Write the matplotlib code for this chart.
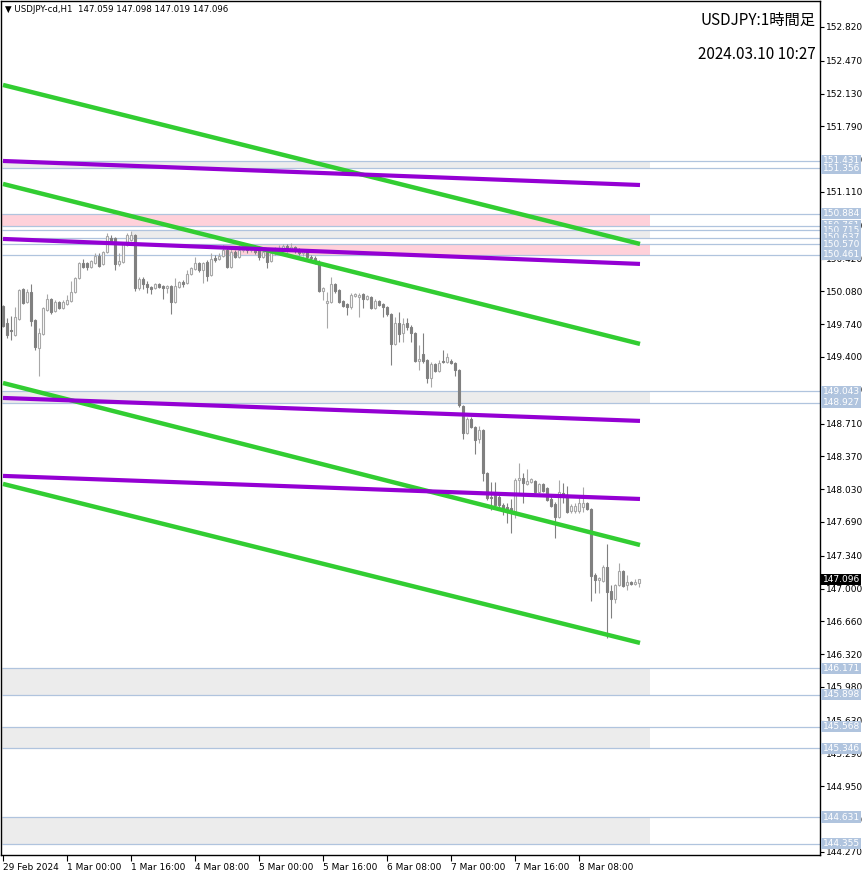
import numpy as np
import matplotlib.pyplot as plt
from matplotlib.transforms import blended_transform_factory

# USDJPY H1, 29 Feb 08:00 .. 8 Mar 23:00 (160 bars)
opens = [
    149.929, 149.753, 149.680, 149.628, 149.794, 150.105, 149.970, 150.074, 149.784, 149.494,
    149.639, 149.887, 150.001, 149.877, 149.970, 149.908, 149.950, 149.981, 150.074, 150.219,
    150.374, 150.374, 150.333, 150.374, 150.447, 150.364, 150.488, 150.633, 150.633, 150.364,
    150.385, 150.561, 150.612, 150.664, 150.116, 150.208, 150.157, 150.126, 150.116, 150.157,
    150.136, 150.116, 150.136, 149.970, 150.126, 150.178, 150.167, 150.260, 150.312, 150.374,
    150.302, 150.385, 150.250, 150.426, 150.416, 150.447, 150.509, 150.333, 150.488, 150.436,
    150.509, 150.550, 150.509, 150.540, 150.530, 150.436, 150.488, 150.395, 150.478, 150.509,
    150.519, 150.550, 150.519, 150.540, 150.509, 150.478, 150.499, 150.436, 150.426, 150.385,
    150.084, 149.960, 149.970, 150.157, 150.095, 149.981, 149.950, 149.918, 150.033, 150.022,
    150.053, 150.001, 150.022, 149.908, 149.981, 149.950, 149.918, 149.846, 149.535, 149.753,
    149.649, 149.753, 149.711, 149.649, 149.359, 149.431, 149.369, 149.183, 149.328, 149.255,
    149.359, 149.348, 149.359, 149.338, 149.266, 148.892, 148.612, 148.757, 148.674, 148.550,
    148.644, 148.198, 147.949, 147.970, 147.949, 147.866, 147.846, 147.835, 147.794, 148.125,
    148.146, 148.084, 148.105, 148.115, 148.001, 148.084, 148.043, 147.929, 147.877, 147.742,
    147.991, 147.970, 147.804, 147.804, 147.804, 147.846, 147.887, 147.825, 147.141, 147.089,
    147.079, 147.224, 146.975, 146.892, 147.038, 147.183, 147.038, 147.069, 147.048, 147.059,
]
highs = [
    149.939, 149.804, 149.825, 149.918, 150.105, 150.116, 150.105, 150.157, 149.794, 149.701,
    149.918, 150.053, 150.012, 149.991, 149.981, 149.991, 150.043, 150.188, 150.229, 150.385,
    150.416, 150.385, 150.405, 150.478, 150.478, 150.499, 150.685, 150.664, 150.643, 150.478,
    150.581, 150.685, 150.705, 150.674, 150.229, 150.229, 150.188, 150.136, 150.167, 150.167,
    150.147, 150.147, 150.147, 150.219, 150.188, 150.198, 150.302, 150.333, 150.436, 150.385,
    150.385, 150.405, 150.478, 150.457, 150.478, 150.561, 150.540, 150.540, 150.509, 150.561,
    150.581, 150.571, 150.561, 150.561, 150.550, 150.530, 150.509, 150.488, 150.540, 150.561,
    150.571, 150.571, 150.581, 150.550, 150.530, 150.519, 150.509, 150.457, 150.447, 150.405,
    150.126, 150.074, 150.229, 150.167, 150.105, 149.991, 149.960, 150.064, 150.064, 150.064,
    150.064, 150.043, 150.033, 150.001, 149.991, 149.960, 149.929, 149.856, 149.815, 149.866,
    149.804, 149.804, 149.732, 149.659, 149.525, 149.649, 149.380, 149.348, 149.338, 149.369,
    149.473, 149.442, 149.380, 149.348, 149.276, 148.902, 148.778, 148.778, 148.685, 148.685,
    148.654, 148.208, 148.105, 148.105, 147.970, 147.887, 147.887, 147.929, 148.146, 148.302,
    148.198, 148.240, 148.146, 148.125, 148.094, 148.094, 148.053, 147.970, 147.897, 148.125,
    148.094, 148.064, 147.877, 147.887, 147.960, 148.053, 147.897, 147.835, 147.162, 147.121,
    147.245, 147.462, 147.038, 147.048, 147.266, 147.193, 147.141, 147.079, 147.100, 147.098,
]
lows = [
    149.711, 149.597, 149.577, 149.618, 149.784, 149.950, 149.960, 149.721, 149.473, 149.204,
    149.628, 149.877, 149.846, 149.866, 149.898, 149.898, 149.939, 149.970, 150.064, 150.208,
    150.323, 150.302, 150.323, 150.364, 150.333, 150.354, 150.478, 150.592, 150.302, 150.343,
    150.374, 150.550, 150.602, 150.084, 150.095, 150.105, 150.064, 150.053, 150.105, 150.116,
    150.001, 150.064, 149.846, 149.960, 150.116, 150.126, 150.157, 150.250, 150.302, 150.281,
    150.167, 150.188, 150.240, 150.385, 150.405, 150.436, 150.323, 150.323, 150.426, 150.426,
    150.488, 150.478, 150.488, 150.468, 150.405, 150.426, 150.323, 150.385, 150.457, 150.488,
    150.499, 150.488, 150.499, 150.478, 150.457, 150.447, 150.405, 150.395, 150.364, 150.074,
    149.991, 149.701, 149.960, 150.064, 149.960, 149.918, 149.835, 149.898, 150.022, 149.815,
    149.908, 149.991, 149.898, 149.898, 149.929, 149.815, 149.825, 149.318, 149.525, 149.556,
    149.556, 149.680, 149.556, 149.348, 149.266, 149.338, 149.131, 149.090, 149.245, 149.245,
    149.338, 149.338, 149.328, 149.204, 148.881, 148.550, 148.602, 148.664, 148.395, 148.509,
    148.115, 147.918, 147.815, 147.825, 147.846, 147.763, 147.680, 147.576, 147.732, 147.991,
    147.887, 148.074, 148.094, 147.991, 147.991, 148.001, 147.908, 147.846, 147.524, 147.732,
    147.887, 147.784, 147.784, 147.784, 147.784, 147.794, 147.815, 146.872, 146.955, 146.955,
    147.069, 146.488, 146.695, 146.851, 147.027, 147.017, 146.986, 147.038, 147.038, 147.019,
]
closes = [
    149.721, 149.628, 149.670, 149.815, 150.095, 149.960, 150.074, 149.773, 149.504, 149.649,
    149.908, 150.001, 149.866, 149.970, 149.908, 149.970, 149.991, 150.074, 150.219, 150.374,
    150.333, 150.333, 150.395, 150.447, 150.343, 150.488, 150.654, 150.602, 150.364, 150.395,
    150.571, 150.664, 150.664, 150.116, 150.208, 150.157, 150.126, 150.105, 150.157, 150.126,
    150.116, 150.136, 149.970, 150.136, 150.178, 150.157, 150.260, 150.323, 150.374, 150.302,
    150.374, 150.240, 150.416, 150.405, 150.447, 150.509, 150.333, 150.488, 150.436, 150.509,
    150.550, 150.509, 150.540, 150.488, 150.436, 150.488, 150.385, 150.478, 150.509, 150.530,
    150.550, 150.519, 150.540, 150.509, 150.478, 150.499, 150.436, 150.426, 150.385, 150.084,
    150.116, 149.981, 150.157, 150.084, 149.970, 149.929, 149.918, 150.043, 150.053, 150.043,
    150.001, 150.033, 149.908, 149.981, 149.939, 149.918, 149.846, 149.535, 149.753, 149.639,
    149.742, 149.711, 149.649, 149.359, 149.380, 149.359, 149.183, 149.328, 149.255, 149.338,
    149.348, 149.400, 149.338, 149.266, 148.902, 148.612, 148.757, 148.674, 148.540, 148.644,
    148.198, 147.939, 147.939, 147.866, 147.866, 147.815, 147.825, 147.794, 148.125, 148.146,
    148.094, 148.115, 148.136, 148.001, 148.084, 148.012, 147.918, 147.856, 147.742, 148.001,
    147.970, 147.794, 147.856, 147.856, 147.887, 147.887, 147.825, 147.131, 147.089, 147.110,
    147.224, 146.965, 146.892, 147.038, 147.183, 147.027, 147.069, 147.048, 147.069, 147.096,
]

time_labels = ['29 Feb 2024', '1 Mar 00:00', '1 Mar 16:00', '4 Mar 08:00', '5 Mar 00:00',
               '5 Mar 16:00', '6 Mar 08:00', '7 Mar 00:00', '7 Mar 16:00', '8 Mar 08:00']
time_label_bars = [0, 16, 32, 48, 64, 80, 96, 112, 128, 144]

price_ticks = [152.820, 152.470, 152.130, 151.790, 151.450, 151.110, 150.760, 150.420,
               150.080, 149.740, 149.400, 149.060, 148.710, 148.370, 148.030, 147.690,
               147.340, 147.000, 146.660, 146.320, 145.980, 145.630, 145.290, 144.950,
               144.610, 144.270]

# horizontal levels and zones (low, high, start bar, colour)
levels = [151.431, 151.356, 150.884, 150.761, 150.715, 150.637, 150.570, 150.461,
          149.043, 148.927, 146.171, 145.898, 145.568, 145.346, 144.631, 144.355]
zones = [
    (151.356, 151.431, -0.2, '#ececec'),
    (150.761, 150.884, -0.2, '#ffd1da'),
    (150.637, 150.715, 32.2, '#ececec'),
    (150.461, 150.570, 55.0, '#ffd1da'),
    (148.927, 149.043, -0.2, '#ececec'),
    (145.898, 146.171, -0.2, '#ececec'),
    (145.346, 145.568, -0.2, '#ececec'),
    (144.355, 144.631, -0.2, '#ececec'),
]
zone_end = 161.75

# trend lines: (start price, end price) from bar 0 to bar 159.25
green_lines = [(152.219, 150.571), (151.193, 149.535), (149.130, 147.451), (148.084, 146.436)]
purple_lines = [(151.431, 151.182), (150.623, 150.364), (148.975, 148.737), (148.167, 147.928)]
line_end = 159.25

last_price = 147.096

fig = plt.figure(figsize=(8.66, 8.76), dpi=100)
ax = fig.add_axes([1 / 866, 1 - 855 / 876, 819 / 866, 854 / 876])
ax.set_xlim(-0.5, 204.25)
ax.set_ylim(144.238, 153.089)

for lo, hi, start, col in zones:
    ax.fill_between([start, zone_end], lo, hi, color=col, lw=0, zorder=1)
ax.hlines(levels, -0.2, 204.25, colors='#b0c4de', lw=0.9, zorder=2)

o = np.array(opens)
h = np.array(highs)
l = np.array(lows)
c = np.array(closes)
x = np.arange(len(o))
bull = c >= o
body_lo = np.minimum(o, c)
body_hi = np.maximum(o, c)

up_col = '#a8a8a8'
dn_col = '#808080'
ax.vlines(x[bull], np.minimum(l, body_lo)[bull], np.maximum(h, body_hi)[bull],
          colors=up_col, lw=0.8, zorder=3)
ax.vlines(x[~bull], np.minimum(l, body_lo)[~bull], np.maximum(h, body_hi)[~bull],
          colors=dn_col, lw=0.8, zorder=3)
ax.bar(x[bull], (body_hi - body_lo)[bull], bottom=body_lo[bull], width=0.55,
       color='white', edgecolor=up_col, linewidth=0.8, zorder=4)
ax.bar(x[~bull], (body_hi - body_lo)[~bull], bottom=body_lo[~bull], width=0.55,
       color=dn_col, edgecolor=dn_col, linewidth=0.8, zorder=4)

for p0, p1 in green_lines:
    ax.plot([0, line_end], [p0, p1], color='#32cd32', lw=3.2, solid_capstyle='butt', zorder=5)
for p0, p1 in purple_lines:
    ax.plot([0, line_end], [p0, p1], color='#9400d3', lw=3.0, solid_capstyle='butt', zorder=6)

# axes cosmetics
for s in ax.spines.values():
    s.set_color('black')
    s.set_linewidth(1.0)
ax.yaxis.tick_right()
ax.set_yticks(price_ticks)
ax.set_yticklabels([f'{v:.3f}' for v in price_ticks])
ax.tick_params(axis='y', direction='out', length=3, width=0.8, pad=1.5, labelsize=6.5)
ax.set_xticks(time_label_bars)
ax.set_xticklabels(time_labels)
ax.tick_params(axis='x', direction='out', length=4, width=0.8, pad=1.5, labelsize=6.5)
for lbl in ax.get_xticklabels():
    lbl.set_ha('left')

trans = blended_transform_factory(ax.transAxes, ax.transData)
for lev in levels:
    ax.text(1.003, lev, f'{lev:.3f}', transform=trans, color='white', fontsize=6.5,
            ha='left', va='center', clip_on=False, zorder=10,
            bbox=dict(boxstyle='square,pad=0.12', fc='#b0c4de', ec='none'))
ax.text(1.003, last_price, f'{last_price:.3f}', transform=trans, color='white', fontsize=6.5,
        ha='left', va='center', clip_on=False, zorder=11,
        bbox=dict(boxstyle='square,pad=0.12', fc='black', ec='none'))

jp = ['Noto Sans CJK JP', 'DejaVu Sans']
ax.text(0.9951, 0.9778, 'USDJPY:1時間足', transform=ax.transAxes, ha='right', va='center',
        fontsize=11, family=jp, zorder=12)
ax.text(0.9951, 0.9368, '2024.03.10 10:27', transform=ax.transAxes, ha='right', va='center',
        fontsize=11, family=jp, zorder=12)

fig.text(5 / 866, 1 - 10 / 876, '▼ USDJPY-cd,H1  147.059 147.098 147.019 147.096',
         fontsize=6.2, va='center', ha='left')

fig.savefig('out.png', dpi=100)
